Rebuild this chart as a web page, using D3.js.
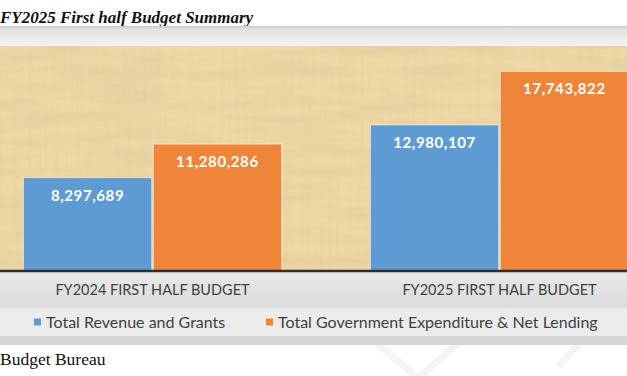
<!DOCTYPE html>
<html>
 <head>
  <meta charset="utf-8" />
  <title>FY2025 First half Budget Summary</title>
  <script src="https://cdn.jsdelivr.net/npm/d3@7"></script>
  <style>
    body { margin: 0; background: #fff; }
    svg { display: block; }
  </style>
 </head>
 <body>
  <script>
    // values
    var categories = ["FY2024 FIRST HALF BUDGET", "FY2025 FIRST HALF BUDGET"];
    var seriesNames = ["Total Revenue and Grants", "Total Government Expenditure & Net Lending"];
    var revenue = [8297689, 12980107];
    var expenditure = [11280286, 17743822];
    var colors = ["#5f9bd3", "#ef8539"];

    var W = 627, H = 376;
    var plotTop = 46, plotBottom = 271;

    var svg = d3.select("body").append("svg")
        .attr("width", W)
        .attr("height", H);

    var defs = svg.append("defs");

    var topGrad = defs.append("linearGradient")
        .attr("id", "topband").attr("x1", 0).attr("y1", 0).attr("x2", 0).attr("y2", 1);
    topGrad.append("stop").attr("offset", "0%").attr("stop-color", "#c9c9c9");
    topGrad.append("stop").attr("offset", "15%").attr("stop-color", "#e2e2e2");
    topGrad.append("stop").attr("offset", "100%").attr("stop-color", "#f3f3f3");

    var botGrad = defs.append("linearGradient")
        .attr("id", "botband").attr("x1", 0).attr("y1", 0).attr("x2", 0).attr("y2", 1);
    botGrad.append("stop").attr("offset", "0%").attr("stop-color", "#e8e8e8");
    botGrad.append("stop").attr("offset", "100%").attr("stop-color", "#dcdcdc");

    // parchment texture
    var paper = defs.append("filter").attr("id", "paper")
        .attr("x", 0).attr("y", 0).attr("width", "100%").attr("height", "100%");
    paper.append("feTurbulence")
        .attr("type", "fractalNoise")
        .attr("baseFrequency", "0.012 0.09")
        .attr("numOctaves", 4)
        .attr("seed", 7);
    paper.append("feColorMatrix")
        .attr("type", "matrix")
        .attr("values", "0 0 0 0 0.72  0 0 0 0 0.58  0 0 0 0 0.34  0 0 0 1.2 -0.42");

    var fibre = defs.append("filter").attr("id", "fibre")
        .attr("x", 0).attr("y", 0).attr("width", "100%").attr("height", "100%");
    fibre.append("feTurbulence")
        .attr("type", "fractalNoise")
        .attr("baseFrequency", "0.25 0.008")
        .attr("numOctaves", 2)
        .attr("seed", 3);
    fibre.append("feColorMatrix")
        .attr("type", "matrix")
        .attr("values", "0 0 0 0 0.75  0 0 0 0 0.62  0 0 0 0 0.38  0 0 0 1.1 -0.45");

    // faint watermark at the bottom right
    var wm = svg.append("g")
        .attr("fill", "none")
        .attr("stroke", "#f4f4f4")
        .attr("stroke-width", 7)
        .attr("stroke-linecap", "round");
    wm.append("path").attr("d", "M378,344 L418,378 L462,340");
    wm.append("path").attr("d", "M560,364 L584,338");

    // title
    svg.append("text")
        .attr("x", 0)
        .attr("y", 23)
        .style("font-family", "'Liberation Serif', 'DejaVu Serif', serif")
        .style("font-weight", "bold")
        .style("font-style", "italic")
        .style("font-size", "17px")
        .attr("fill", "#111")
        .text("FY2025 First half Budget Summary");

    // top gray band
    svg.append("rect")
        .attr("x", 0).attr("y", 26)
        .attr("width", W).attr("height", plotTop - 26)
        .attr("fill", "url(#topband)");

    // parchment plot area
    svg.append("rect")
        .attr("x", 0).attr("y", plotTop)
        .attr("width", W).attr("height", plotBottom - plotTop)
        .attr("fill", "#efd8a4");
    svg.append("rect")
        .attr("x", 0).attr("y", plotTop)
        .attr("width", W).attr("height", plotBottom - plotTop)
        .attr("filter", "url(#paper)")
        .attr("opacity", 0.85);
    svg.append("rect")
        .attr("x", 0).attr("y", plotTop)
        .attr("width", W).attr("height", plotBottom - plotTop)
        .attr("filter", "url(#fibre)")
        .attr("opacity", 0.7);

    // scales
    var x0 = d3.scaleBand()
        .domain(categories)
        .range([-21, 673])
        .paddingInner(0.256)
        .paddingOuter(0.128);

    var x1 = d3.scaleBand()
        .domain(seriesNames)
        .range([0, x0.bandwidth()])
        .paddingInner(0.012);

    var y = d3.scaleLinear()
        .domain([0, 20000000])
        .range([plotBottom, plotTop]);

    var rows = categories.map(function(c, i) {
      return {cat: c, values: [
        {name: seriesNames[0], value: revenue[i], color: colors[0]},
        {name: seriesNames[1], value: expenditure[i], color: colors[1]}
      ]};
    });

    var groups = svg.append("g").selectAll("g")
        .data(rows)
        .enter().append("g")
        .attr("transform", function(d) { return "translate(" + x0(d.cat) + ",0)"; });

    groups.selectAll("rect")
        .data(function(d) { return d.values; })
        .enter().append("rect")
        .attr("x", function(d) { return x1(d.name); })
        .attr("y", function(d) { return y(d.value); })
        .attr("width", x1.bandwidth())
        .attr("height", function(d) { return y(0) - y(d.value); })
        .attr("fill", function(d) { return d.color; })
        .attr("stroke", "rgba(255,255,255,0.55)")
        .attr("stroke-width", 1);

    var fmt = d3.format(",");
    groups.selectAll("text")
        .data(function(d) { return d.values; })
        .enter().append("text")
        .attr("x", function(d) { return x1(d.name) + x1.bandwidth() / 2; })
        .attr("y", function(d) { return y(d.value) + 23; })
        .attr("text-anchor", "middle")
        .style("font-family", "Lato, 'Open Sans', sans-serif")
        .style("font-weight", "bold")
        .style("font-size", "15px")
        .style("letter-spacing", "0.6px")
        .attr("fill", "#fff")
        .text(function(d) { return fmt(d.value); });

    // bottom band with category axis and legend
    svg.append("rect")
        .attr("x", 0).attr("y", plotBottom + 1)
        .attr("width", W).attr("height", 308 - plotBottom - 1)
        .attr("fill", "url(#botband)");
    svg.append("rect")
        .attr("x", 0).attr("y", 308)
        .attr("width", W).attr("height", 28)
        .attr("fill", "#ebebeb");
    svg.append("rect")
        .attr("x", 0).attr("y", 336)
        .attr("width", W).attr("height", 9)
        .attr("fill", "#d6d6d6");

    var xAxis = d3.axisBottom(x0).tickSize(0).tickPadding(0);
    var axisG = svg.append("g")
        .attr("transform", "translate(0," + plotBottom + ")")
        .call(xAxis);
    axisG.select(".domain")
        .attr("d", "M0,0H" + W)
        .attr("stroke", "#2e2e2e")
        .attr("stroke-width", 2.5);
    axisG.selectAll("text")
        .attr("y", 24)
        .attr("dy", 0)
        .style("font-family", "Lato, 'Open Sans', sans-serif")
        .style("font-size", "14.5px")
        .attr("fill", "#404040");

    // legend
    var legendX = [34, 266];
    var legend = svg.append("g").selectAll("g")
        .data(seriesNames)
        .enter().append("g")
        .attr("transform", function(d, i) { return "translate(" + legendX[i] + ",322)"; });
    legend.append("rect")
        .attr("x", 0).attr("y", -3.5)
        .attr("width", 7).attr("height", 7)
        .attr("fill", function(d, i) { return colors[i]; });
    legend.append("text")
        .attr("x", 12)
        .attr("y", 5.5)
        .style("font-family", "Lato, 'Open Sans', sans-serif")
        .style("font-size", "16px")
        .attr("fill", "#404040")
        .text(function(d) { return d; });

    // source line
    svg.append("text")
        .attr("x", 0)
        .attr("y", 365)
        .style("font-family", "'Liberation Serif', 'DejaVu Serif', serif")
        .style("font-size", "17.5px")
        .attr("fill", "#111")
        .text("Budget Bureau");
  </script>
 </body>
</html>
